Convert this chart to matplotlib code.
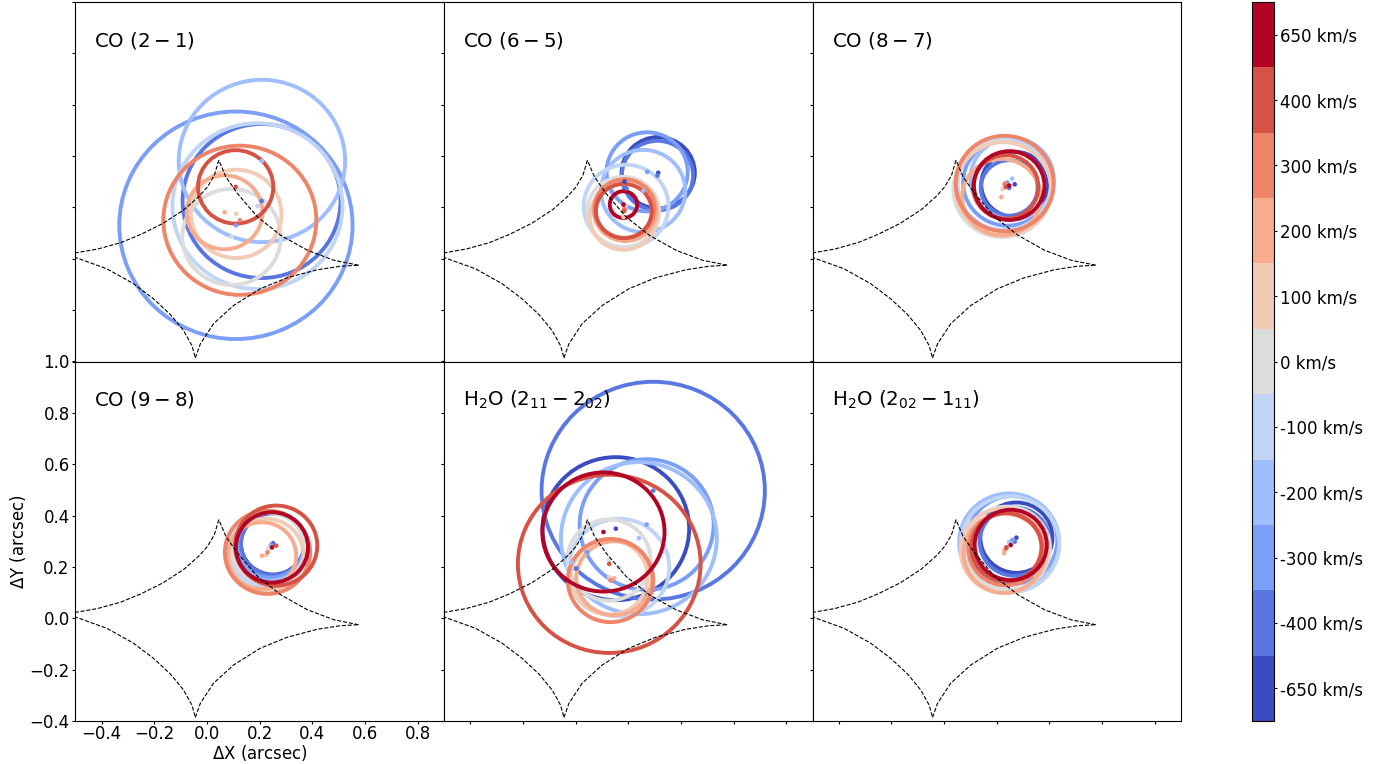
import numpy as np
from matplotlib import pyplot as plt
from matplotlib.cm import ScalarMappable
from matplotlib.colors import ListedColormap, Normalize
from matplotlib.patches import Circle

velocities = ['-650 km/s', '-400 km/s', '-300 km/s', '-200 km/s', '-100 km/s', '0 km/s',
              '100 km/s', '200 km/s', '300 km/s', '400 km/s', '650 km/s']
titles = [r'CO $(2-1)$', r'CO $(6-5)$', r'CO $(8-7)$',
          r'CO $(9-8)$', r'H$_2$O $(2_{11}-2_{02})$', r'H$_2$O $(2_{02}-1_{11})$']

# velocity index, x, y, radius (arcsec)
co21 = [(1, 0.2075, 0.225, 0.300), (2, 0.110, 0.1305, 0.443), (3, 0.2088, 0.381, 0.316),
        (4, 0.192, 0.205, 0.323), (5, 0.0935, 0.085, 0.187), (6, 0.111, 0.175, 0.172),
        (7, 0.067, 0.181, 0.144), (8, 0.125, 0.150, 0.2905), (9, 0.109, 0.280, 0.143)]
co65 = [(0, 0.314, 0.335, 0.139), (1, 0.311, 0.324, 0.1355), (2, 0.272, 0.3385, 0.154),
        (3, 0.257, 0.264, 0.160), (4, 0.192, 0.205, 0.161), (5, 0.181, 0.1825, 0.137),
        (6, 0.182, 0.163, 0.128), (7, 0.1885, 0.189, 0.120), (8, 0.186, 0.1955, 0.114),
        (9, 0.1835, 0.186, 0.106), (10, 0.182, 0.211, 0.052)]
co87 = [(0, 0.268, 0.290, 0.127), (1, 0.247, 0.276, 0.108), (2, 0.240, 0.297, 0.168),
        (3, 0.258, 0.312, 0.158), (4, 0.228, 0.289, 0.177), (5, 0.221, 0.271, 0.186),
        (6, 0.225, 0.273, 0.181), (7, 0.2175, 0.240, 0.149), (8, 0.230, 0.293, 0.186),
        (9, 0.234, 0.280, 0.124), (10, 0.247, 0.285, 0.134)]
co98 = [(0, 0.2505, 0.292, 0.1215), (1, 0.249, 0.288, 0.120), (2, 0.243, 0.285, 0.127),
        (3, 0.240, 0.279, 0.133), (4, 0.234, 0.270, 0.149), (5, 0.234, 0.272, 0.139),
        (6, 0.225, 0.246, 0.142), (7, 0.209, 0.244, 0.130), (8, 0.230, 0.257, 0.162),
        (9, 0.263, 0.283, 0.156), (10, 0.247, 0.276, 0.137)]
h2o211 = [(0, 0.153, 0.349, 0.2785), (1, 0.295, 0.497, 0.424), (2, 0.270, 0.365, 0.2545),
          (3, 0.2405, 0.312, 0.296), (4, 0.166, 0.1975, 0.190), (5, 0.127, 0.227, 0.158),
          (6, 0.128, 0.160, 0.146), (7, 0.147, 0.156, 0.144), (8, 0.133, 0.147, 0.162),
          (9, 0.128, 0.212, 0.347), (10, 0.106, 0.336, 0.232)]
h2o202 = [(0, 0.2745, 0.314, 0.137), (1, 0.268, 0.2985, 0.133), (2, 0.259, 0.305, 0.171),
          (3, 0.247, 0.296, 0.190), (4, 0.250, 0.288, 0.187), (5, 0.240, 0.273, 0.162),
          (6, 0.228, 0.2635, 0.165), (7, 0.228, 0.253, 0.154), (8, 0.234, 0.270, 0.142),
          (9, 0.2365, 0.2765, 0.133), (10, 0.253, 0.2856, 0.137)]
panels = [co21, co65, co87, co98, h2o211, h2o202]

# dots with no ring of their own: panel, velocity index, x, y
extra_dots = [(1, 0, 0.183, 0.303), (1, 1, 0.192, 0.276), (1, 2, 0.133, 0.263),
              (4, 2, 0.042, 0.260), (4, 1, 0.000, 0.195), (4, 3, -0.019, 0.221)]

caustic_left_x = [0.045, 0.028, 0.002, -0.029, -0.086, -0.165, -0.251, -0.327, -0.415, -0.505]
caustic_left_y = [0.384, 0.325, 0.280, 0.244, 0.192, 0.139, 0.095, 0.063, 0.038, 0.022]
caustic_bottom_left_x = [-0.505, -0.38, -0.279, -0.203, -0.139, -0.089, -0.057, -0.044]
caustic_bottom_left_y = [0.007, -0.039, -0.097, -0.156, -0.217, -0.279, -0.338, -0.386]
caustic_bottom_right_x = [-0.044, -0.025, 0.025, 0.101, 0.202, 0.304, 0.418, 0.506, 0.576]
caustic_bottom_right_y = [-0.386, -0.331, -0.253, -0.182, -0.117, -0.074, -0.043, -0.029, -0.025]
caustic_right_x = [0.576, 0.483, 0.382, 0.281, 0.192, 0.116, 0.072, 0.045]
caustic_right_y = [-0.025, -0.006, 0.033, 0.091, 0.163, 0.254, 0.319, 0.384]
caustic_arcs = [(caustic_left_x, caustic_left_y),
                (caustic_bottom_left_x, caustic_bottom_left_y),
                (caustic_bottom_right_x, caustic_bottom_right_y),
                (caustic_right_x, caustic_right_y)]

colors = plt.cm.coolwarm(np.linspace(0, 1, len(velocities)))

W, H = 1389, 764
fig = plt.figure(figsize=(W / 100, H / 100), dpi=100)

ax_w = 368.6
ax_h = 359.5
axes = []
for i in range(6):
    col = i % 3
    row = i // 3
    left = 75.3 + col * ax_w
    bottom = 721 - (2 - row) * ax_h + ax_h
    ax = fig.add_axes([left / W, (H - bottom) / H, ax_w / W, ax_h / H])
    axes.append(ax)

    for v, x, y, r in panels[i]:
        ax.add_patch(Circle((x, y), r, fill=False, edgecolor=colors[v], linewidth=2.8, zorder=2))
    ax.scatter([p[1] for p in panels[i]], [p[2] for p in panels[i]], s=11, linewidths=0,
               c=[colors[p[0]] for p in panels[i]], zorder=3)
    for p, v, x, y in extra_dots:
        if p == i:
            ax.scatter([x], [y], s=11, linewidths=0, color=colors[v], zorder=3)

    for arc_x, arc_y in caustic_arcs:
        ax.plot(arc_x, arc_y, color='k', linestyle='--', linewidth=0.8, zorder=4)

    ax.set_xlim(-0.5, 0.9)
    ax.set_ylim(-0.4, 1.0)
    ax.set_xticks(np.arange(-0.4, 0.9, 0.2))
    ax.set_yticks(np.arange(-0.4, 1.1, 0.2))
    ax.tick_params(labelsize=12, length=2, pad=2, labelleft=i == 3, labelbottom=i == 3)
    ax.tick_params(axis='x', pad=1)
    ax.text(0.052, 0.877, titles[i], transform=ax.transAxes, fontsize=14.2, zorder=5)

axes[3].set_xlabel(r'$\Delta$X (arcsec)', fontsize=12, labelpad=0)
axes[3].set_ylabel(r'$\Delta$Y (arcsec)', fontsize=12, labelpad=1)

cax = fig.add_axes([1252 / W, (H - 721) / H, 22 / W, 719 / H])
sm = ScalarMappable(norm=Normalize(0, len(velocities)), cmap=ListedColormap(colors))
cb = fig.colorbar(sm, cax=cax, ticks=np.arange(len(velocities)) + 0.5)
cb.ax.set_yticklabels(velocities)
cb.ax.tick_params(labelsize=12, length=2, pad=2)

fig.savefig('out.png', dpi=100)
